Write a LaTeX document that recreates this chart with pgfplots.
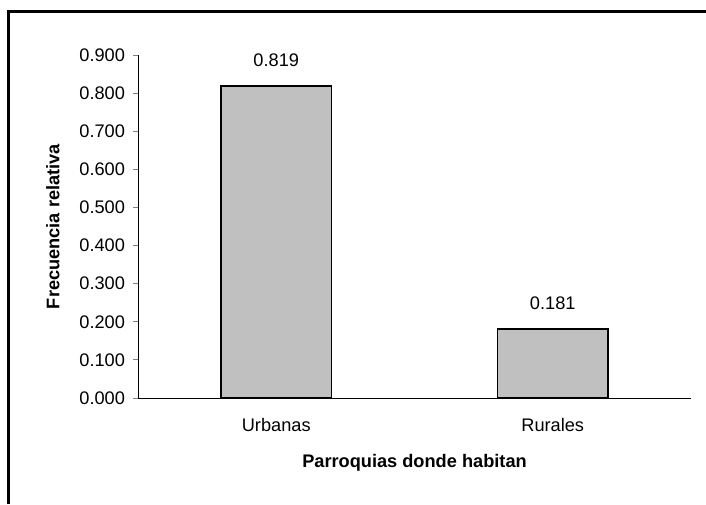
\documentclass[border=0pt]{standalone}
\usepackage{pgfplots}
\pgfplotsset{compat=1.18}
\usepackage{fontspec}
\setmainfont{Liberation Sans}
\definecolor{barfill}{RGB}{192,192,192}
\begin{document}
\begin{tikzpicture}[x=1pt,y=1pt]
% page: 706x504 px at 0.5pt per px; axis corner at (138px, 398px from top)
\path[use as bounding box] (-69,-53) rectangle (284,199);
\draw[line width=1.5pt] (-64.5,-53) -- (-64.5,193) -- (284,193);
\begin{axis}[
    at={(0,0)}, anchor=south west,
    scale only axis,
    width=276.5pt, height=171.5pt,
    xmin=-0.5, xmax=1.5,
    ymin=0, ymax=0.9,
    axis x line*=bottom,
    axis y line*=left,
    axis line style={line width=0.45pt},
    xtick={0,1},
    xticklabels={Urbanas,Rurales},
    xtick style={draw=none},
    extra x ticks={0.5,1.5},
    extra x tick labels={},
    extra x tick style={tick style={draw=black, line width=0.45pt}},
    ytick={0,0.1,...,0.9},
    ytick style={line width=0.45pt},
    tick align=outside,
    major tick length=2.5pt,
    yticklabel style={/pgf/number format/.cd, fixed, fixed zerofill, precision=3, assume math mode=true},
    yticklabel shift=0.5pt,
    xticklabel style={yshift=-4pt},
    tick label style={font=\fontsize{9.1}{10}\selectfont},
    xlabel={\textbf{Parroquias donde habitan}},
    ylabel={\textbf{Frecuencia relativa}},
    label style={font=\fontsize{9.1}{10}\selectfont},
    xlabel style={yshift=0.5pt},
    ylabel style={yshift=3pt},
    ybar,
    bar width=0.4,
    nodes near coords,
    nodes near coords style={font=\fontsize{9.1}{10}\selectfont, yshift=6pt,
        /pgf/number format/.cd, fixed, fixed zerofill, precision=3, assume math mode=true},
]
\addplot[fill=barfill, draw=black, line width=0.7pt] coordinates {
    (0,0.819)
    (1,0.181)
};
\end{axis}
\end{tikzpicture}
\end{document}
